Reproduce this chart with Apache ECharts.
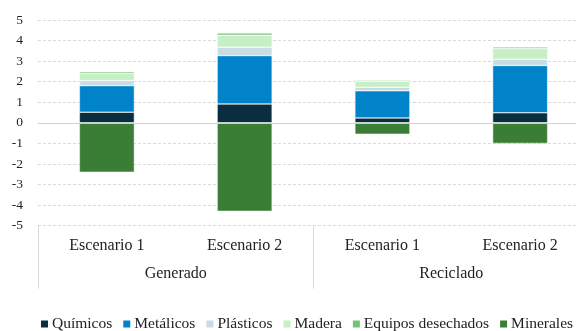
<!DOCTYPE html>
<html>
<head>
<meta charset="utf-8">
<script src="https://cdn.jsdelivr.net/npm/echarts@6/dist/echarts.min.js"></script>
<style>
  html, body { margin: 0; padding: 0; background: #fff; overflow: hidden; }
  /* el gráfico original está recortado por la derecha */
  #chart { width: 590px; height: 331px; }
</style>
</head>
<body>
<div id="chart"></div>
<script>
const escenarios = ['Escenario 1', 'Escenario 2', 'Escenario 1', 'Escenario 2']
const grupos = ['Generado', 'Reciclado']

const quimicos = [0.52, 0.92, 0.24, 0.49]
const metalicos = [1.29, 2.35, 1.32, 2.30]
const plasticos = [0.25, 0.41, 0.17, 0.30]
const madera = [0.34, 0.58, 0.29, 0.52]
const equipos = [0.08, 0.11, 0.05, 0.08]
const minerales = [-2.4, -4.3, -0.55, -1.0]

const serif = 'Liberation Serif'

const chart = echarts.init(document.getElementById('chart'))

const mkSeries = (name, data, color) => ({
  name,
  type: 'bar',
  stack: 'total',
  data,
  barWidth: 55,
  itemStyle: { color, borderColor: '#fff', borderWidth: 0.5 }
})

const series = [
  mkSeries('Químicos', quimicos, '#0b2d40'),
  mkSeries('Metálicos', metalicos, '#0083c9'),
  mkSeries('Plásticos', plasticos, '#c9dce4'),
  mkSeries('Madera', madera, '#c6efc6'),
  mkSeries('Equipos desechados', equipos, '#74c476'),
  mkSeries('Minerales', minerales, '#3a7d35')
]
// línea del cero
series[0].markLine = {
  silent: true,
  symbol: 'none',
  label: { show: false },
  lineStyle: { color: '#d0d0d0', type: 'solid', width: 1 },
  data: [{ yAxis: 0 }]
}

chart.setOption({
  animation: false,
  textStyle: { fontFamily: serif },
  grid: { left: 38, top: 20, width: 551, height: 205.7 },
  legend: {
    top: 316,
    left: 39,
    width: 545,
    padding: 0,
    itemWidth: 9,
    itemHeight: 9,
    itemGap: 9,
    icon: 'rect',
    textStyle: { fontFamily: serif, fontSize: 15.5, color: '#222', padding: [0, 0, 0, -2] }
  },
  xAxis: [
    {
      type: 'category',
      data: escenarios,
      axisLine: { show: false, onZero: false },
      axisTick: { show: false },
      axisLabel: { fontFamily: serif, fontSize: 16, color: '#222', margin: 12 }
    },
    {
      type: 'category',
      data: grupos,
      position: 'bottom',
      axisLine: { show: false, onZero: false },
      axisTick: { show: true, length: 63, lineStyle: { color: '#d9d9d9' } },
      axisLabel: { fontFamily: serif, fontSize: 16, color: '#222', margin: 40 }
    }
  ],
  yAxis: {
    type: 'value',
    min: -5,
    max: 5,
    interval: 1,
    axisLine: { show: false },
    axisTick: { show: false },
    axisLabel: { fontFamily: serif, fontSize: 13.5, color: '#222', margin: 15 },
    splitLine: { lineStyle: { color: '#d9d9d9', type: [3, 2] } }
  },
  series
})
</script>
</body>
</html>
